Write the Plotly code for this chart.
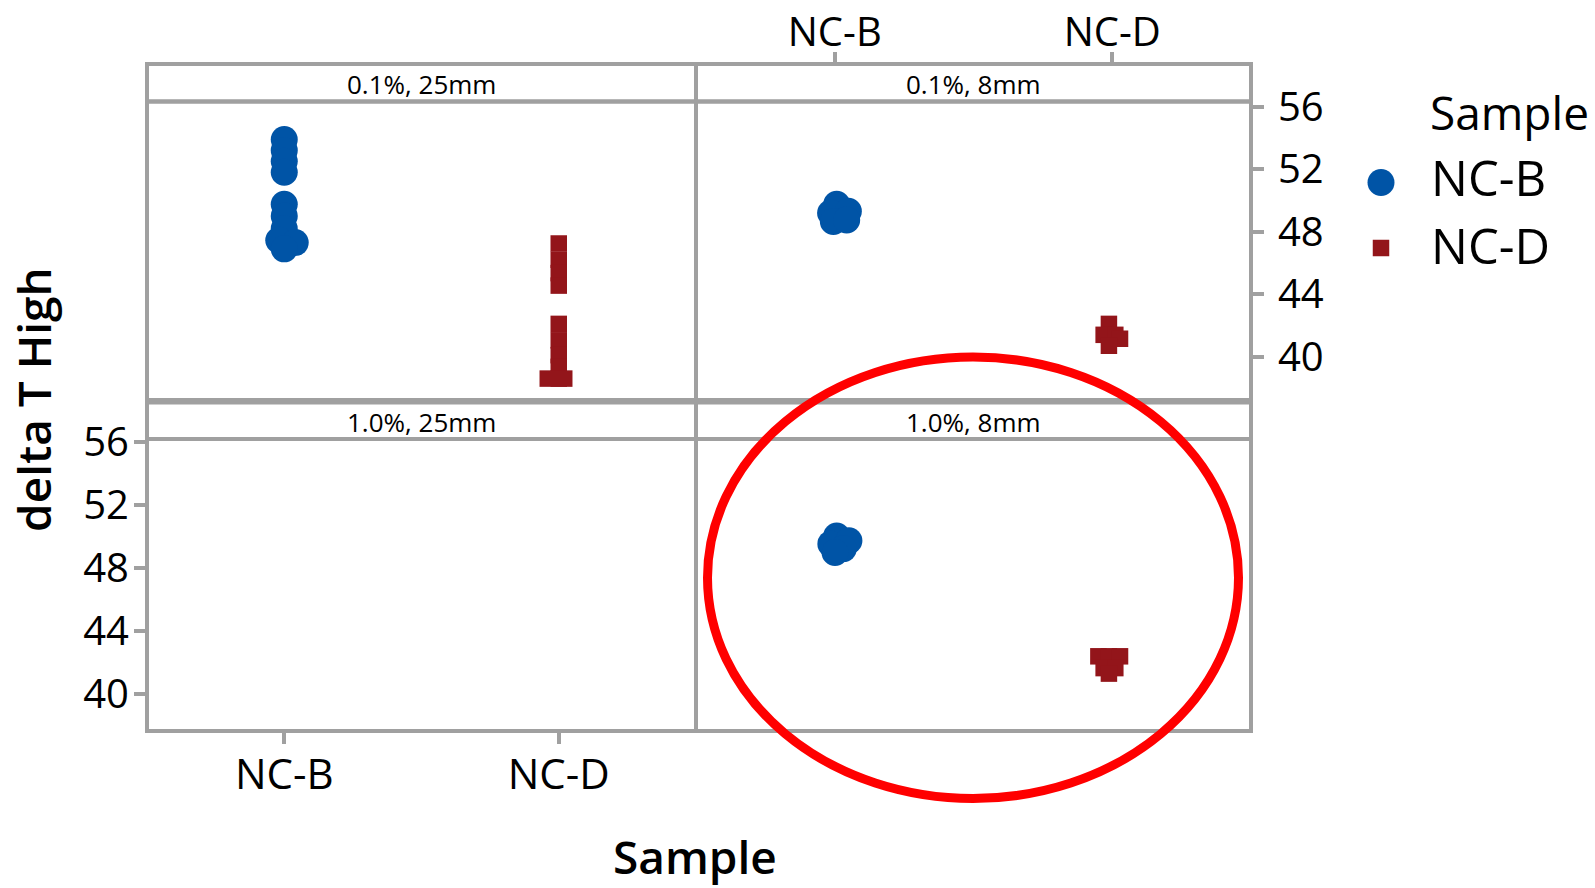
import plotly.graph_objects as go

W, H = 1595, 888

# ---- data -------------------------------------------------------------
samples = ["NC-B", "NC-D"]
panel_labels = ["0.1%, 25mm", "0.1%, 8mm", "1.0%, 25mm", "1.0%, 8mm"]
y_ticks = [40, 44, 48, 52, 56]

# delta T High per panel and sample; *_jit is the small horizontal jitter
# (category units) that separates coincident points
b_01_25 = [53.9, 53.2, 52.5, 51.8, 49.75, 49.0, 48.2, 47.45, 47.3, 46.9]
b_01_25_jit = [0, 0, 0, 0, 0, 0, 0, -0.02, 0.04, 0]
d_01_25 = [47.25, 46.2, 45.35, 44.55, 42.1, 41.05, 40.1, 39.35, 38.6, 38.6, 38.6]
d_01_25_jit = [0, 0, 0, 0, 0, 0, 0, 0, 0, -0.04, 0.02]

b_01_8 = [49.75, 49.2, 49.3, 48.65, 48.75]
b_01_8_jit = [0.007, -0.015, 0.049, -0.005, 0.043]
d_01_8 = [42.1, 41.4, 41.4, 41.15, 40.7]
d_01_8_jit = [-0.012, -0.031, 0.011, 0.028, -0.012]

b_10_25 = []
b_10_25_jit = []
d_10_25 = []
d_10_25_jit = []

b_10_8 = [50.05, 49.55, 49.75, 49.25, 49.0]
b_10_8_jit = [0.007, -0.014, 0.051, 0.031, 0.001]
d_10_8 = [42.4, 42.4, 42.4, 41.65, 41.65, 41.3]
d_10_8_jit = [-0.05, -0.012, 0.028, -0.031, 0.011, -0.012]

panel_data = [
    ((b_01_25, b_01_25_jit), (d_01_25, d_01_25_jit)),
    ((b_01_8, b_01_8_jit), (d_01_8, d_01_8_jit)),
    ((b_10_25, b_10_25_jit), (d_10_25, d_10_25_jit)),
    ((b_10_8, b_10_8_jit), (d_10_8, d_10_8_jit)),
]

# ---- styling ----------------------------------------------------------
BLUE = "#0054A6"
RED = "#93151A"
GRAY = "#a0a0a0"
FONT = "Open Sans"
MARKERS = [dict(symbol="circle", size=27, color=BLUE, line=dict(width=0)),
           dict(symbol="square", size=16.5, color=RED, line=dict(width=0))]

# panel geometry (pixels)
COL_X = [(147, 696), (696, 1251)]
ROW_STRIP = [(64, 101.5), (402.5, 439)]
ROW_PLOT = [(101.5, 400), (439, 731)]
Y_RANGES = [[37.23, 56.33], [37.65, 56.22]]


def fx(p):
    return p / W


def fy(p):
    return 1 - p / H


fig = go.Figure()

for k in range(4):
    suffix = "" if k == 0 else str(k + 1)
    for s, (vals, jit) in enumerate(panel_data[k]):
        fig.add_trace(go.Scatter(
            x=[s + j for j in jit], y=vals, mode="markers",
            marker=MARKERS[s], name=samples[s], showlegend=False,
            xaxis="x" + suffix, yaxis="y" + suffix, hoverinfo="skip"))

base_axis = dict(showline=False, showgrid=False, zeroline=False, automargin=False,
                 ticks="", showticklabels=False, fixedrange=True)
tick_style = dict(ticks="outside", ticklen=12, tickwidth=4, tickcolor=GRAY,
                  showticklabels=True)
y_tick_font = dict(family=FONT, size=40, color="black")
x_tick_font = dict(family=FONT, size=42, color="black")

layout_axes = {}
for k in range(4):
    r, c = divmod(k, 2)
    suffix = "" if k == 0 else str(k + 1)
    xa = dict(base_axis, domain=[fx(COL_X[c][0]), fx(COL_X[c][1])],
              range=[-0.5, 1.5], anchor="y" + suffix,
              tickvals=[0, 1], ticktext=samples)
    ya = dict(base_axis, domain=[fy(ROW_PLOT[r][1]), fy(ROW_PLOT[r][0])],
              range=Y_RANGES[r], anchor="x" + suffix, tickvals=y_ticks)
    layout_axes["xaxis" + suffix] = xa
    layout_axes["yaxis" + suffix] = ya

# top-right panel: sample ticks above its strip, delta T ticks on the right
layout_axes["xaxis2"].update(tick_style, tickfont=dict(x_tick_font, size=40), side="top",
                             anchor="free", position=fy(64), ticklabelstandoff=-10)
layout_axes["yaxis2"].update(tick_style, tickfont=y_tick_font, side="right",
                             ticklabelstandoff=6)
# bottom-left panel: sample ticks below, delta T ticks on the left
layout_axes["xaxis3"].update(tick_style, tickfont=x_tick_font, side="bottom",
                             ticklabelstandoff=-5)
layout_axes["yaxis3"].update(tick_style, tickfont=y_tick_font, side="left",
                             ticklabelstandoff=-3)

shapes = []
annotations = []
for k in range(4):
    r, c = divmod(k, 2)
    x0, x1 = COL_X[c]
    for (y0, y1) in (ROW_STRIP[r], ROW_PLOT[r]):
        shapes.append(dict(type="rect", xref="paper", yref="paper",
                           x0=fx(x0), x1=fx(x1), y0=fy(y1), y1=fy(y0),
                           line=dict(color=GRAY, width=4), layer="below"))
    annotations.append(dict(text=panel_labels[k], xref="paper", yref="paper",
                            x=fx((x0 + x1) / 2), y=fy((ROW_STRIP[r][0] + ROW_STRIP[r][1]) / 2 + 1.5),
                            showarrow=False, xanchor="center", yanchor="middle",
                            font=dict(family=FONT, size=26, color="black")))

# highlight around the 1.0%, 8mm panel
shapes.append(dict(type="circle", xref="paper", yref="paper",
                   x0=fx(707.5), x1=fx(1238.5), y0=fy(798.5), y1=fy(357),
                   line=dict(color="#ff0000", width=9), layer="above"))

# legend
shapes.append(dict(type="circle", xref="paper", yref="paper",
                   x0=fx(1381 - 13.5), x1=fx(1381 + 13.5),
                   y0=fy(182.5 + 13.5), y1=fy(182.5 - 13.5),
                   fillcolor=BLUE, line=dict(width=0)))
shapes.append(dict(type="rect", xref="paper", yref="paper",
                   x0=fx(1381 - 8.25), x1=fx(1381 + 8.25),
                   y0=fy(248 + 8.25), y1=fy(248 - 8.25),
                   fillcolor=RED, line=dict(width=0)))
annotations.append(dict(text="Sample", xref="paper", yref="paper", x=fx(1428), y=fy(112),
                        xanchor="left", yanchor="middle", showarrow=False,
                        font=dict(family=FONT, size=46, color="black")))
for i, yy in enumerate([177, 245]):
    annotations.append(dict(text=samples[i], xref="paper", yref="paper", x=fx(1429), y=fy(yy),
                            xanchor="left", yanchor="middle", showarrow=False,
                            font=dict(family=FONT, size=49, color="black")))

# axis titles
title_font = dict(family=FONT, size=46, color="black", weight=600)
annotations.append(dict(text="delta T High", xref="paper", yref="paper", x=fx(33), y=fy(400),
                        textangle=-90, xanchor="center", yanchor="middle",
                        showarrow=False, font=title_font))
annotations.append(dict(text="Sample", xref="paper", yref="paper", x=fx(695), y=fy(856),
                        xanchor="center", yanchor="middle", showarrow=False, font=title_font))

fig.update_layout(
    width=W, height=H,
    margin=dict(l=0, r=0, t=0, b=0, autoexpand=False),
    paper_bgcolor="white", plot_bgcolor="white",
    showlegend=False,
    shapes=shapes, annotations=annotations,
    **layout_axes,
)

fig.write_html("out.html")
